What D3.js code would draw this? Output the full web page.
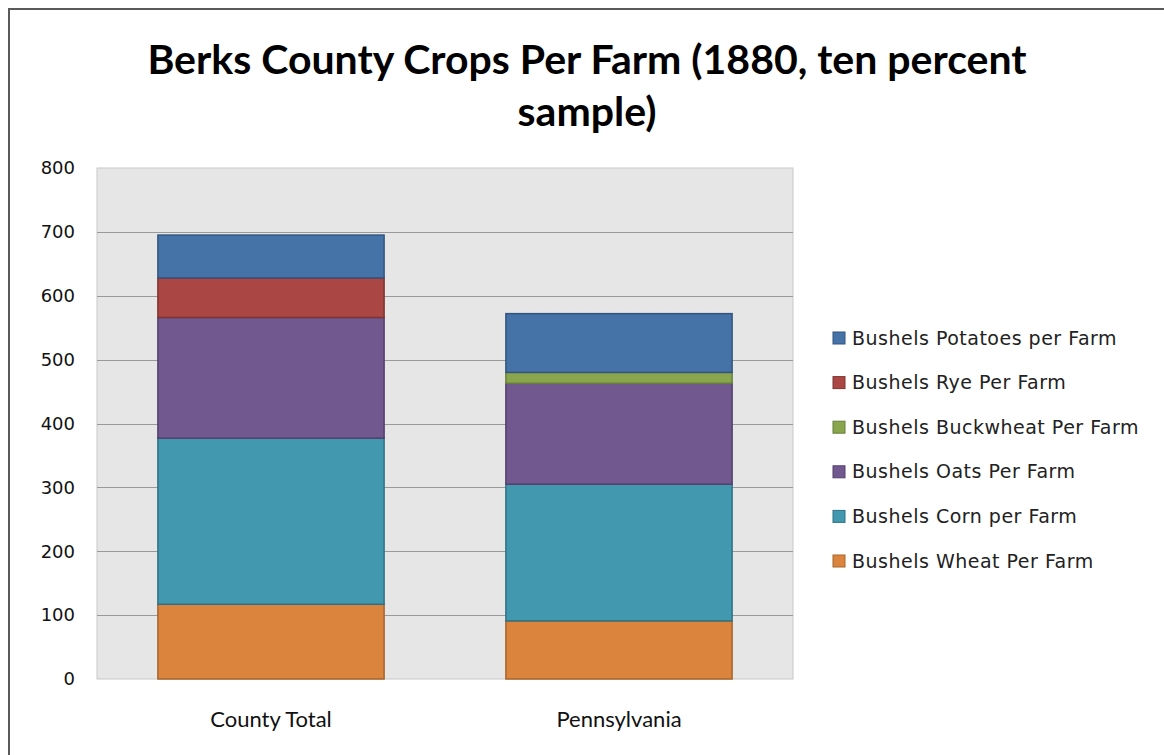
<!DOCTYPE html>
<html>
<head>
<meta charset="utf-8">
<script src="https://cdn.jsdelivr.net/npm/d3@7"></script>
<style>
  body { margin: 0; background: white; }
</style>
</head>
<body>
<script>
// categories along the x axis
var categories = ["County Total", "Pennsylvania"];

// series, bottom of the stack first
var seriesNames = ["Bushels Wheat Per Farm", "Bushels Corn per Farm", "Bushels Oats Per Farm",
                   "Bushels Buckwheat Per Farm", "Bushels Rye Per Farm", "Bushels Potatoes per Farm"];
var wheat     = [117, 91];
var corn      = [260, 214];
var oats      = [189, 158];
var buckwheat = [0, 17];
var rye       = [62, 0];
var potatoes  = [67, 92];
var seriesColors = ["#DB843D", "#4198AF", "#71588F", "#89A54E", "#AA4643", "#4572A7"];
var strokeColors = ["#A8642C", "#2F7286", "#53406C", "#66803A", "#803431", "#33557E"];
var yTicks = [0, 100, 200, 300, 400, 500, 600, 700, 800];

var width = 1164, height = 755;
var plot = {left: 97, right: 793, top: 168, bottom: 679};

var svg = d3.select("body").append("svg")
  .attr("width", width)
  .attr("height", height);

// outer frame (cropped on right and bottom)
svg.append("path")
  .attr("d", "M9,760 L9,9 L1170,9")
  .style("fill", "none")
  .style("stroke", "#5a5a5a")
  .style("stroke-width", 2);

// title
var title = svg.append("text")
  .attr("text-anchor", "middle")
  .style("font-family", "Lato, sans-serif")
  .style("font-weight", "bold")
  .style("font-size", "41px")
  .style("fill", "#000");
title.append("tspan").attr("x", 587).attr("y", 74).text("Berks County Crops Per Farm (1880, ten percent");
title.append("tspan").attr("x", 587).attr("y", 126).text("sample)");

// build table rows for stacking
var table = categories.map(function(c, i) {
  return {
    cat: c,
    "Bushels Wheat Per Farm": wheat[i],
    "Bushels Corn per Farm": corn[i],
    "Bushels Oats Per Farm": oats[i],
    "Bushels Buckwheat Per Farm": buckwheat[i],
    "Bushels Rye Per Farm": rye[i],
    "Bushels Potatoes per Farm": potatoes[i]
  };
});
var stacked = d3.stack().keys(seriesNames)(table);

var x = d3.scaleBand()
  .domain(categories)
  .range([plot.left, plot.right])
  .paddingInner(0.35)
  .paddingOuter(0.175);

var y = d3.scaleLinear()
  .domain([0, 800])
  .range([plot.bottom, plot.top]);

// plot background
svg.append("rect")
  .attr("x", plot.left)
  .attr("y", plot.top)
  .attr("width", plot.right - plot.left)
  .attr("height", plot.bottom - plot.top)
  .style("fill", "#e6e6e6")
  .style("stroke", "#c8c8c8")
  .style("stroke-width", 1);

// gridlines
svg.append("g")
  .selectAll("line")
  .data(yTicks.filter(function(d) { return d > 0 && d < 800; }))
  .enter().append("line")
  .attr("x1", plot.left)
  .attr("x2", plot.right)
  .attr("y1", function(d) { return Math.round(y(d)) + 0.5; })
  .attr("y2", function(d) { return Math.round(y(d)) + 0.5; })
  .style("stroke", "#9a9a9a")
  .style("stroke-width", 1.2);

// y axis labels
var yAxis = d3.axisLeft(y).tickValues(yTicks).tickSize(0).tickPadding(22);
var yg = svg.append("g")
  .attr("transform", "translate(" + plot.left + ",0)")
  .call(yAxis);
yg.select(".domain").remove();
yg.selectAll("text")
  .style("font-family", "DejaVu Sans, sans-serif")
  .style("font-size", "18px")
  .style("fill", "#111");

// x axis labels
var xAxis = d3.axisBottom(x).tickSize(0).tickPadding(32);
var xg = svg.append("g")
  .attr("transform", "translate(0," + plot.bottom + ")")
  .call(xAxis);
xg.select(".domain").remove();
xg.selectAll("text")
  .style("font-family", "Lato, sans-serif")
  .style("font-size", "22px")
  .style("fill", "#111");

// stacked bars
var layer = svg.append("g").selectAll("g")
  .data(stacked)
  .enter().append("g")
  .style("fill", function(d, i) { return seriesColors[i]; })
  .style("stroke", function(d, i) { return strokeColors[i]; });

layer.selectAll("rect")
  .data(function(d) { return d.filter(function(p) { return p[1] - p[0] > 0; }); })
  .enter().append("rect")
  .attr("x", function(d) { return x(d.data.cat); })
  .attr("y", function(d) { return y(d[1]); })
  .attr("width", x.bandwidth())
  .attr("height", function(d) { return y(d[0]) - y(d[1]); })
  .style("stroke-width", 1.5);

// legend, top series first
var legendItems = seriesNames.map(function(n, i) { return {name: n, color: seriesColors[i], stroke: strokeColors[i]}; }).reverse();
var legend = svg.append("g").selectAll("g")
  .data(legendItems)
  .enter().append("g")
  .attr("transform", function(d, i) { return "translate(833," + (338 + i * 44.6) + ")"; });

legend.append("rect")
  .attr("x", 0)
  .attr("y", -6)
  .attr("width", 12)
  .attr("height", 12)
  .style("fill", function(d) { return d.color; })
  .style("stroke", function(d) { return d.stroke; })
  .style("stroke-width", 1);

legend.append("text")
  .attr("x", 19)
  .attr("y", 0)
  .attr("dy", "0.35em")
  .style("font-family", "DejaVu Sans, sans-serif")
  .style("font-size", "19px")
  .style("letter-spacing", "0.5px")
  .style("fill", "#222")
  .text(function(d) { return d.name; });
</script>
</body>
</html>
